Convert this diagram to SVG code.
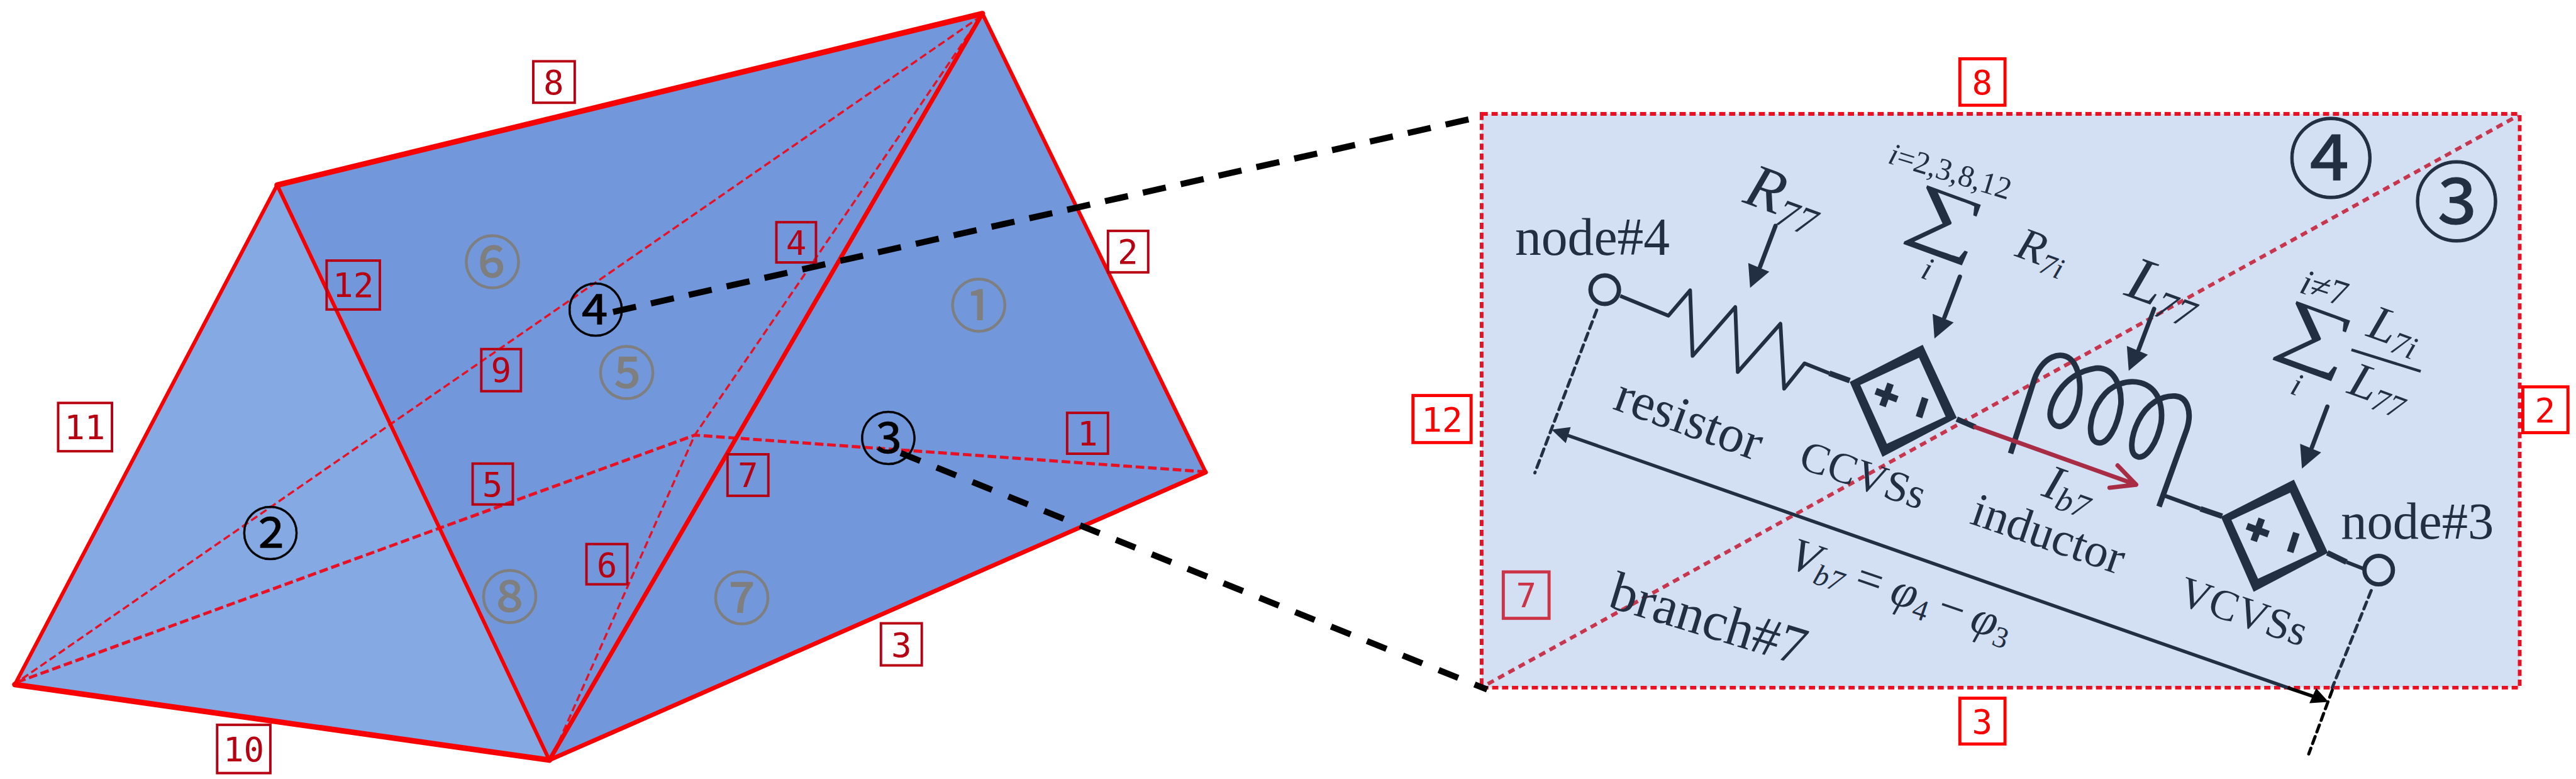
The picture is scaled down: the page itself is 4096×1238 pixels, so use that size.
<svg xmlns="http://www.w3.org/2000/svg" width="4096" height="1238" viewBox="0 0 4096 1238">
<style>
.e{fill:none;stroke:#f80000;stroke-linecap:round}
.d{fill:none;stroke:#ea1023;stroke-linecap:butt}
.bd{fill:none;stroke:#000;stroke-width:10}
.lb rect{fill:none;stroke:#b70012;stroke-width:4}
.lb text{fill:#b70012;font:55px "DejaVu Sans Mono",monospace;text-anchor:middle}
.lr rect{fill:none;stroke:#f00;stroke-width:5}
.lr text{fill:#f00;font:55px "DejaVu Sans Mono",monospace;text-anchor:middle}
.cg{fill:#7f7f7f;stroke:#7f7f7f;stroke-width:1.5;font:94px "Noto Sans CJK SC",sans-serif;text-anchor:middle}
.ck{fill:#000;stroke:#000;stroke-width:.6;font:94px "Noto Sans CJK SC",sans-serif;text-anchor:middle}
.cp{fill:#222f43;stroke:#222f43;stroke-width:1;font:140px "Noto Sans CJK SC",sans-serif;text-anchor:middle}
.s{fill:#222f43;font-family:"Liberation Serif",serif}
.i{font-style:italic}
.w{fill:none;stroke:#222f43;stroke-linecap:butt;stroke-linejoin:round}
.lead{fill:none;stroke-width:5;stroke-dasharray:12 8;stroke-linecap:round}
</style>
<defs>
<g id="arr"><line x1="0" y1="0" x2="-25" y2="66" stroke="#222f43" stroke-width="7" stroke-linecap="round"/><polygon points="-41,100 -44,60 -10,74" fill="#222f43"/></g>
<g id="src"><path fill="#222f43" fill-rule="evenodd" d="M3108,557L3163,675L3043,738L2990,617ZM3102,578L3007,622L3050,717L3145,673Z"/><path stroke="#222f43" stroke-width="11" fill="none" d="M3056,620L3043,656M3032,632L3067,645M3112,643L3102,674"/></g>
</defs>
<rect width="4096" height="1238" fill="#fff"/>
<g transform="scale(0.98367)">
<g id="prism">
<polygon points="448,299 1588,22 1949,763 888,1228" fill="#7297da"/>
<polygon points="448,299 24,1106 888,1228" fill="#85a9e3"/>
</g>
<g id="connectors">
<path class="d" stroke-width="3.5" stroke-dasharray="12 6" d="M1586,26L28,1102"/>
<path class="d" stroke-width="5" stroke-dasharray="14 6" d="M28,1102L1123,703L1945,762"/>
<path class="d" stroke-width="3.5" stroke-dasharray="12 6" d="M1586,26L1123,703L891,1226"/>
<path class="e" stroke-width="9" d="M448,299L1588,22"/>
<path class="e" stroke-width="9" d="M24,1106L888,1228"/>
<path class="e" stroke-width="6" d="M448,299L24,1106"/>
<path class="e" stroke-width="6" d="M448,299L888,1228"/>
<path class="e" stroke-width="6" d="M1588,22L1949,763"/>
<path class="e" stroke-width="7" d="M1588,22L888,1228"/>
<path class="e" stroke-width="7" d="M888,1228L1949,763"/>
</g>
<g id="panel">
<rect x="2395" y="184" width="1678" height="927" fill="#d3e0f4"/>
<rect x="2395" y="184" width="1678" height="927" fill="none" stroke="#ea1023" stroke-width="6" stroke-dasharray="10 6"/>
<path d="M2405,1105L4070,187" fill="none" stroke="#c8364d" stroke-width="6" stroke-dasharray="11 8"/>
</g>
<g id="leaders">
<path class="bd" stroke-dasharray="38 24.7" d="M991,504L2378,192"/>
<path class="bd" stroke-dasharray="34 28.5" d="M1456,732L2404,1114"/>
</g>
<g id="edge-labels">
<g class="lb" id="b8"><rect x="862" y="99" width="67" height="67"/><text x="895" y="152">8</text></g>
<g class="lb" id="b12"><rect x="528" y="421" width="86" height="79"/><text x="571" y="480">12</text></g>
<g class="lb" id="b9"><rect x="778" y="564" width="64" height="68"/><text x="810" y="617">9</text></g>
<g class="lb" id="b11"><rect x="94" y="651" width="87" height="78"/><text x="137" y="710">11</text></g>
<g class="lb" id="b5"><rect x="764" y="749" width="65" height="66"/><text x="796" y="802">5</text></g>
<g class="lb" id="b6"><rect x="948" y="879" width="66" height="65"/><text x="981" y="932">6</text></g>
<g class="lb" id="b10"><rect x="351" y="1171" width="86" height="78"/><text x="394" y="1230">10</text></g>
<g class="lb" id="b4"><rect x="1255" y="359" width="64" height="65"/><text x="1287" y="412">4</text></g>
<g class="lb" id="b2"><rect x="1791" y="373" width="65" height="67"/><text x="1823" y="426">2</text></g>
<g class="lb" id="b1"><rect x="1725" y="667" width="66" height="66"/><text x="1758" y="720">1</text></g>
<g class="lb" id="b7"><rect x="1176" y="734" width="66" height="67"/><text x="1209" y="787">7</text></g>
<g class="lb" id="b3"><rect x="1424" y="1007" width="66" height="68"/><text x="1457" y="1061">3</text></g>
</g>
<g id="faces">
<text class="cg" id="f6" x="796" y="458">⑥</text>
<text class="cg" id="f5" x="1013" y="637">⑤</text>
<text class="cg" id="f1" x="1582" y="529">①</text>
<text class="cg" id="f7" x="1199" y="1001">⑦</text>
<text class="cg" id="f8" x="824" y="999">⑧</text>
<text class="ck" id="f2" x="437" y="897">②</text>
<text class="ck" id="f4" x="963" y="536">④</text>
<text class="ck" id="f3" x="1436" y="743">③</text>
</g>
<g id="panel-labels">
<g class="lr" id="p8"><rect x="3168" y="95" width="73" height="75"/><text x="3204" y="152">8</text></g>
<g class="lr" id="p12"><rect x="2284" y="639" width="94" height="76"/><text x="2331" y="697">12</text></g>
<g class="lr" id="p2"><rect x="4078" y="625" width="73" height="74"/><text x="4114" y="682">2</text></g>
<g class="lr" id="p3"><rect x="3168" y="1128" width="73" height="74"/><text x="3204" y="1185">3</text></g>
<g id="p7"><rect x="2430" y="924" width="74" height="75" fill="none" stroke="#cc3347" stroke-width="5"/><text x="2467" y="981" fill="#cc3347" style="font:55px 'DejaVu Sans Mono',monospace;text-anchor:middle">7</text></g>
<text class="cp" id="pf4" x="3768" y="308">④</text>
<text class="cp" id="pf3" x="3971" y="378">③</text>
</g>
<g id="circuit">
<g id="node4"><text class="s" x="2449" y="412" font-size="85">node#4</text><circle cx="2594" cy="468" r="23" fill="none" stroke="#222f43" stroke-width="7"/></g>
<g id="node3"><text class="s" x="3784" y="870" font-size="84">node#3</text><circle cx="3845" cy="921" r="23" fill="none" stroke="#222f43" stroke-width="7"/></g>
<g id="resistor"><path class="w" stroke-width="6" d="M2619,478L2697,510L2732,469L2736,575L2805,496L2809,601L2878,523L2884,628L2917,587L2957,603"/><path class="w" stroke-width="9" d="M2957,603L2990,615"/></g>
<g id="ccvs"><use href="#src"/><path class="w" stroke-width="9" d="M3163,677L3193,690"/></g>
<g id="vcvs"><use href="#src" transform="translate(600,218)"/><path class="w" stroke-width="9" d="M3762,893L3793,908"/><path class="w" stroke-width="6" d="M3793,908L3821,919"/></g>
<g id="inductor"><path class="w" transform="translate(3200,450) scale(0.3333)" stroke-width="27" d="M150,848L265,490C300,380 400,340 450,400C490,450 500,560 465,640C430,720 370,745 345,680C325,620 400,460 560,435C650,425 690,520 685,610C670,720 620,810 570,795C520,780 530,660 590,580C640,510 720,490 780,505C870,530 890,620 880,700C860,800 810,870 770,865C720,855 735,760 770,690C810,610 880,565 950,570C1010,575 1030,650 1005,730L870,1105"/><path class="w" stroke-width="6.5" d="M3497,800L3557,822"/><path class="w" stroke-width="9" d="M3557,822L3592,834"/></g>
<g id="current"><path fill="none" stroke="#a92c45" stroke-width="7" stroke-linecap="round" stroke-linejoin="round" d="M3193,690L3453,783M3423,752L3453,783L3410,788"/></g>
<g id="voltage"><line x1="2530" y1="702" x2="3698" y2="1111" stroke="#222f43" stroke-width="5.5"/><line x1="3698" y1="1111" x2="3745" y2="1127" stroke="#000" stroke-width="5.5"/><polygon points="2508,694 2539,690 2531,716" fill="#222f43"/><polygon points="3764,1134 3744,1112 3733,1136" fill="#000"/></g>
<path class="lead" stroke="#222f43" stroke-width="4" d="M2581,501L2481,764"/>
<path class="lead" stroke="#222f43" stroke-width="4" d="M3833,954L3770,1111"/>
<path class="lead" stroke="#000" stroke-width="4" d="M3770,1115L3732,1218"/>
<use href="#arr" transform="translate(2870,365)"/>
<use href="#arr" transform="translate(3168,447)"/>
<use href="#arr" transform="translate(3482,499)"/>
<use href="#arr" transform="translate(3762,657)"/>
<line x1="3801" y1="565" x2="3913" y2="600" stroke="#222f43" stroke-width="4.5"/>
<g class="s">
<text transform="translate(2605,660) rotate(20)" font-size="84">resistor</text>
<text transform="translate(2905,755) rotate(19)" font-size="70">CCVSs</text>
<text transform="translate(3182,845) rotate(19)" font-size="77">inductor</text>
<text transform="translate(3518,975) rotate(19)" font-size="70">VCVSs</text>
<text transform="translate(2597,980) rotate(17)" font-size="88">branch#7</text>
<text transform="translate(2815,326) rotate(20)" font-size="100" class="i">R<tspan font-size="64" dy="15">77</tspan></text>
<text transform="translate(3432,476) rotate(20)" font-size="100" class="i">L<tspan font-size="64" dy="15">77</tspan></text>
<text transform="translate(3255,413) rotate(20)" font-size="74" class="i">R<tspan font-size="48" dy="11">7i</tspan></text>
<text transform="translate(3298,800) rotate(20)" font-size="80" class="i">I<tspan font-size="54" dy="12">b7</tspan></text>
<text transform="translate(3823,542) rotate(20)" font-size="80" class="i">L<tspan font-size="52" dy="11">7i</tspan></text>
<text transform="translate(3792,634) rotate(20)" font-size="80" class="i">L<tspan font-size="52" dy="11">77</tspan></text>
<text transform="translate(2888,916) rotate(19)" font-size="76"><tspan class="i">V</tspan><tspan class="i" font-size="48" dy="11">b7</tspan><tspan dy="-11" dx="18">=</tspan><tspan class="i" dx="18">φ</tspan><tspan font-size="48" dy="11">4</tspan><tspan dy="-11" dx="14">−</tspan><tspan class="i" dx="14">φ</tspan><tspan font-size="48" dy="11">3</tspan></text>
<text transform="translate(3050,263) rotate(17)" font-size="50"><tspan class="i">i</tspan>=2,3,8,12</text>
<text transform="translate(3715,472) rotate(18)" font-size="58"><tspan class="i">i</tspan>≠7</text>
<text transform="translate(3103,448) rotate(20)" font-size="52" class="i">i</text>
<text transform="translate(3700,635) rotate(20)" font-size="52" class="i">i</text>
<text transform="translate(3078,368) rotate(20) scale(1.45,1)" font-size="118">∑</text>
<text transform="translate(3675,555) rotate(20) scale(1.45,1)" font-size="118">∑</text>
</g>
</g>
</g>
</svg>
